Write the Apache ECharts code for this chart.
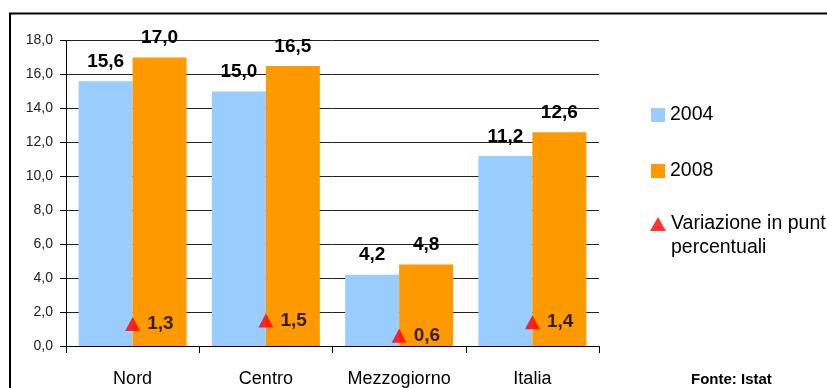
<!DOCTYPE html>
<html>
<head>
<meta charset="utf-8">
<script src="https://cdn.jsdelivr.net/npm/echarts@6/dist/echarts.min.js"></script>
<style>html,body{margin:0;padding:0;background:#fff;}#c{width:827px;height:388px;}</style>
</head>
<body>
<div id="c"></div>
<script>
var categories = ['Nord', 'Centro', 'Mezzogiorno', 'Italia'];
var values2004 = [15.6, 15.0, 4.2, 11.2];
var values2008 = [17.0, 16.5, 4.8, 12.6];
var variation = [1.3, 1.5, 0.6, 1.4];
var yTicks = [0, 2, 4, 6, 8, 10, 12, 14, 16, 18];

var FONT = 'Liberation Sans, Arial, sans-serif';
function fmt(v) { return v.toFixed(1).replace('.', ','); }

var chart = echarts.init(document.getElementById('c'), null, { renderer: 'canvas' });
var barLabel = {
  show: true, position: 'top', distance: 10,
  fontFamily: FONT, fontWeight: 'bold', fontSize: 19, color: '#000',
  formatter: function (p) { return fmt(p.value); }
};
chart.setOption({
  animation: false,
  backgroundColor: '#fff',
  grid: { left: 66, right: 228, top: 40.5, height: 307, containLabel: false },
  xAxis: {
    type: 'category', data: categories,
    axisLine: { lineStyle: { color: '#000', width: 1 } },
    axisTick: { show: true, alignWithLabel: false, length: 7, lineStyle: { color: '#000' } },
    axisLabel: { interval: 0, fontFamily: FONT, fontSize: 18, color: '#000', margin: 24 }
  },
  yAxis: {
    type: 'value', min: yTicks[0], max: yTicks[yTicks.length - 1], interval: 2,
    axisLine: { show: true, lineStyle: { color: '#000', width: 1 } },
    axisTick: { show: true, length: 6, lineStyle: { color: '#000' } },
    splitLine: { lineStyle: { color: '#222', width: 1 } },
    axisLabel: { fontFamily: FONT, fontSize: 14, color: '#222', margin: 13, formatter: function (v) { return fmt(v); } }
  },
  legend: [
    { data: [{ name: '2004', icon: 'rect' }], orient: 'vertical', left: 651, top: 105, padding: 0, itemWidth: 14, itemHeight: 14,
      textStyle: { fontFamily: FONT, fontSize: 19.5, color: '#000' } },
    { data: [{ name: '2008', icon: 'rect' }], orient: 'vertical', left: 651, top: 161, padding: 0, itemWidth: 14, itemHeight: 14,
      textStyle: { fontFamily: FONT, fontSize: 19.5, color: '#000' } },
    { data: [{ name: 'Variazione in punti percentuali', icon: 'triangle' }], orient: 'vertical', left: 650, top: 188, padding: 0,
      itemWidth: 16, itemHeight: 14,
      formatter: function () { return ' \nVariazione in punti\npercentuali'; },
      textStyle: { fontFamily: FONT, fontSize: 19.5, color: '#000', lineHeight: 24 } }
  ],
  series: [
    { name: '2004', type: 'bar', data: values2004, barGap: '0%', barCategoryGap: '19%',
      itemStyle: { color: '#99CCFF' }, label: barLabel },
    { name: '2008', type: 'bar', data: values2008,
      itemStyle: { color: '#FF9900' }, label: barLabel },
    { name: 'Variazione in punti percentuali', type: 'scatter', data: variation,
      symbol: 'triangle', symbolSize: [15, 14], itemStyle: { color: '#FF0000' }, z: 5,
      label: { show: true, position: 'right', distance: 7, fontFamily: FONT, fontWeight: 'bold', fontSize: 19, color: '#000',
        formatter: function (p) { return fmt(p.value); } } }
  ],
  graphic: [
    { type: 'rect', shape: { x: 10, y: 13.5, width: 900, height: 500 }, silent: true,
      style: { fill: 'none', stroke: '#000', lineWidth: 2 } },
    { type: 'text', left: 691, top: 372, silent: true,
      style: { text: 'Fonte: Istat', fontFamily: FONT, fontWeight: 'bold', fontSize: 15, fill: '#000' } }
  ]
});
</script>
</body>
</html>
